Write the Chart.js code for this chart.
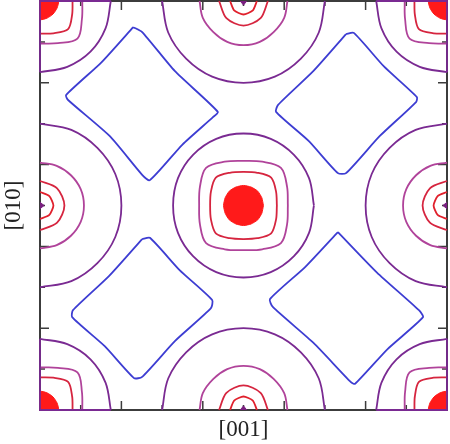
<!DOCTYPE html>
<html lang="en">
  <head>
    <meta charset="UTF-8" />
    <script src="https://cdn.jsdelivr.net/npm/chart.js@4.4.1/dist/chart.umd.min.js"></script>
    <title>Contour map</title>
    <style>
      body { margin: 0; background: #fff; }
      #wrap { width: 450px; height: 444px; }
    </style>
  </head>
  <body>
    <div id="wrap"><canvas id="chart"></canvas></div>
    <script>
      // contour lines, in % of the cell along [001] (x) and [010] (y)
      const fillBlobs = [
        [[54.9,50],[54.5,51.9],[53.5,53.5],[51.9,54.5],[50,54.9],[48.1,54.5],[46.5,53.5],[45.5,51.9],[45.1,50],[45.5,48.1],[46.5,46.5],[48.1,45.5],[50,45.1],[51.9,45.5],[53.5,46.5],[54.5,48.1],[54.9,50]],
        [[0,0],[4.5,0],[4.2,1.7],[3.2,3.2],[1.7,4.2],[0,4.5],[0,0]],
        [[100,0],[95.5,0],[95.8,1.7],[96.8,3.2],[98.3,4.2],[100,4.5],[100,0]],
        [[0,100],[4.5,100],[4.2,98.3],[3.2,96.8],[1.7,95.8],[0,95.5],[0,100]],
        [[100,100],[95.5,100],[95.8,98.3],[96.8,96.8],[98.3,95.8],[100,95.5],[100,100]]
      ];
      const redRings = [
        [[58.2,50],[58.0,53.4],[56.8,56.8],[53.4,58.0],[50,58.2],[46.6,58.0],[43.2,56.8],[42.0,53.4],[41.8,50],[42.0,46.6],[43.2,43.2],[46.6,42.0],[50,41.8],[53.4,42.0],[56.8,43.2],[58.0,46.6],[58.2,50]],
        [[8,0],[7.9,3.3],[6.9,6.9],[3.3,7.9],[0,8]],
        [[92,0],[92.1,3.3],[93.1,6.9],[96.7,7.9],[100,8]],
        [[8,100],[7.9,96.7],[6.9,93.1],[3.3,92.1],[0,92]],
        [[92,100],[92.1,96.7],[93.1,93.1],[96.7,92.1],[100,92]],
        [[0,56],[4.2,54.2],[6,50],[4.2,45.8],[0,44]],
        [[100,56],[95.8,54.2],[94,50],[95.8,45.8],[100,44]],
        [[44,0],[45.8,4.2],[50,6],[54.2,4.2],[56,0]],
        [[44,100],[45.8,95.8],[50,94],[54.2,95.8],[56,100]]
      ];
      const innerRings = [
        [[0,53.3],[2.3,52.3],[3.3,50],[2.3,47.7],[0,46.7]],
        [[100,53.3],[97.7,52.3],[96.7,50],[97.7,47.7],[100,46.7]],
        [[46.7,0],[47.7,2.3],[50,3.3],[52.3,2.3],[53.3,0]],
        [[46.7,100],[47.7,97.7],[50,96.7],[52.3,97.7],[53.3,100]]
      ];
      const siteMarks = [
        [[0,50.8],[1,50],[0,49.2]],
        [[100,50.8],[99,50],[100,49.2]],
        [[49.2,0],[50,1],[50.8,0]],
        [[49.2,100],[50,99],[50.8,100]]
      ];
      const pinkRings = [
        [[60.9,50],[60.7,54.6],[59.2,59.2],[54.6,60.7],[50,60.9],[45.4,60.7],[40.8,59.2],[39.3,54.6],[39.1,50],[39.3,45.4],[40.8,40.8],[45.4,39.3],[50,39.1],[54.6,39.3],[59.2,40.8],[60.7,45.4],[60.9,50]],
        [[10.4,0],[10.3,4.4],[9.2,9.2],[4.4,10.3],[0,10.4]],
        [[89.6,0],[89.7,4.4],[90.8,9.2],[95.6,10.3],[100,10.4]],
        [[10.4,100],[10.3,95.6],[9.2,90.8],[4.4,89.7],[0,89.6]],
        [[89.6,100],[89.7,95.6],[90.8,90.8],[95.6,89.7],[100,89.6]],
        [[0,60.5],[4.1,59.7],[7.6,57.4],[10,54],[10.8,50],[10,46],[7.6,42.6],[4.1,40.3],[0,39.5]],
        [[100,60.5],[95.9,59.7],[92.4,57.4],[90,54],[89.2,50],[90,46],[92.4,42.6],[95.9,40.3],[100,39.5]],
        [[39.2,0],[40,4.1],[42.6,7.6],[46,10],[50,10.8],[54,10],[57.4,7.6],[60,4.1],[60.8,0]],
        [[39.2,100],[40,95.9],[42.6,92.4],[46,90],[50,89.2],[54,90],[57.4,92.4],[60,95.9],[60.8,100]]
      ];
      const purpleRings = [
        [[67.3,50],[66.1,56.7],[62.4,62.4],[56.7,66.3],[50,67.6],[43.3,66.3],[37.6,62.4],[33.9,56.7],[32.7,50],[33.9,43.3],[37.6,37.6],[43.3,33.7],[50,32.4],[56.7,33.7],[62.4,37.6],[66.1,43.3],[67.3,50]],
        [[17.4,0],[16.1,6.7],[12.4,12.4],[6.7,16.1],[0,17.4]],
        [[82.6,0],[83.9,6.7],[87.6,12.4],[93.3,16.1],[100,17.4]],
        [[17.4,100],[16.1,93.3],[12.4,87.6],[6.7,83.9],[0,82.6]],
        [[82.6,100],[83.9,93.3],[87.6,87.6],[93.3,83.9],[100,82.6]],
        [[0,70],[7.7,68.5],[14.1,64.1],[18.5,57.7],[20,50],[18.5,42.3],[14.1,35.9],[7.7,31.5],[0,30]],
        [[100,70],[92.3,68.5],[85.9,64.1],[81.5,57.7],[80,50],[81.5,42.3],[85.9,35.9],[92.3,31.5],[100,30]],
        [[30,0],[31.5,7.7],[35.9,14.1],[42.3,18.5],[50,20],[57.7,18.5],[64.1,14.1],[68.5,7.7],[70,0]],
        [[30,100],[31.5,92.3],[35.9,85.9],[42.3,81.5],[50,80],[57.7,81.5],[64.1,85.9],[68.5,92.3],[70,100]]
      ];
      // the corner contours run along the frame as well
      const cornerEdges = [
        [[0,17.4],[0,0],[17.4,0]],
        [[82.6,0],[100,0],[100,17.4]],
        [[0,82.6],[0,100],[17.4,100]],
        [[82.6,100],[100,100],[100,82.6]]
      ];
      const blueLoops = [
        [[22.9,93.6],[25.1,92.4],[33.1,82.9],[43.7,72.9],[42.5,71.6],[35.0,64.9],[27.0,56.2],[25.1,57.5],[17.1,67.0],[6.9,75.8],[6.4,77.0],[15.1,85.0],[22.9,93.6]],
        [[75.2,91.9],[77.1,92.2],[84.5,84.0],[92.6,76.5],[92.4,75.3],[83.5,67.0],[75.2,57.9],[73.2,57.9],[66.0,65.8],[58.0,72.9],[58.5,74.6],[67.2,82.9],[75.2,91.9]],
        [[25.1,41.8],[27.0,42.1],[34.3,34.2],[42.3,26.9],[42.0,24.9],[33.2,16.9],[25.1,8.1],[23.1,7.8],[15.9,15.6],[7.9,22.7],[8.1,24.4],[17.0,32.8],[25.1,41.8]],
        [[73.2,43.5],[82.8,33.6],[93.1,24.4],[94.1,22.7],[85.4,14.9],[77.4,6.4],[76.4,6.8],[67.2,16.4],[57.2,25.2],[56.5,27.1],[65.2,35.0],[73.2,43.5]]
      ];
      const tickValues = [10, 20, 30, 40, 50, 60, 70, 80, 90];

      const datasets = [];
      function addLines(list, color, tension, extra) {
        list.forEach((pts) => {
          datasets.push(Object.assign({
            data: pts.map((p) => ({ x: p[0], y: p[1] })),
            showLine: true,
            borderColor: color,
            borderWidth: 1.8,
            pointRadius: 0,
            tension: tension,
            clip: false,
          }, extra || {}));
        });
      }
      addLines(cornerEdges, "#7a2a92", 0);
      addLines(blueLoops, "#3d3dd2", 0.2);
      addLines(purpleRings, "#7a2a92", 0.35);
      addLines(pinkRings, "#b0439a", 0.35);
      addLines(redRings, "#d6253f", 0.3);
      addLines(innerRings, "#e0202c", 0.2);
      addLines(siteMarks, "#7a2080", 0, { fill: "shape", backgroundColor: "#7a2080", borderWidth: 1 });
      addLines(fillBlobs, "#ff1a1a", 0.2, { fill: "shape", backgroundColor: "#ff1a1a", borderWidth: 1 });

      const framePlugin = {
        id: "frame",
        beforeDatasetsDraw(chart) {
          const { ctx, chartArea: a, scales: { x, y } } = chart;
          ctx.save();
          ctx.strokeStyle = "#3c3c3c";
          ctx.lineWidth = 2;
          ctx.strokeRect(a.left, a.top, a.right - a.left, a.bottom - a.top);
          ctx.lineWidth = 1.5;
          ctx.beginPath();
          tickValues.forEach((v) => {
            const len = v % 20 === 0 ? 9 : 5;
            const px = x.getPixelForValue(v);
            const py = y.getPixelForValue(v);
            ctx.moveTo(px, a.bottom); ctx.lineTo(px, a.bottom - len);
            ctx.moveTo(px, a.top); ctx.lineTo(px, a.top + len);
            ctx.moveTo(a.left, py); ctx.lineTo(a.left + len, py);
            ctx.moveTo(a.right, py); ctx.lineTo(a.right - len, py);
          });
          ctx.stroke();
          ctx.restore();
        },
      };

      const titleFont = { family: "'Liberation Serif', 'DejaVu Serif', serif", size: 23 };

      new Chart(document.getElementById("chart").getContext("2d"), {
        type: "scatter",
        data: { datasets: datasets },
        options: {
          responsive: true,
          maintainAspectRatio: false,
          animation: false,
          layout: { padding: { top: 1, right: 3, left: 0, bottom: 0 } },
          plugins: { legend: { display: false }, tooltip: { enabled: false } },
          scales: {
            x: {
              type: "linear", min: 0, max: 100,
              ticks: { display: false },
              grid: { display: false, drawTicks: false },
              border: { display: false },
              title: { display: true, text: "[001]", color: "#222", font: titleFont, padding: { top: 6.4, bottom: 0 } },
            },
            y: {
              type: "linear", min: 0, max: 100,
              ticks: { display: false },
              grid: { display: false, drawTicks: false },
              border: { display: false },
              title: { display: true, text: "[010]", color: "#222", font: titleFont, padding: { top: 0, bottom: 12.4 } },
            },
          },
        },
        plugins: [framePlugin],
      });
    </script>
  </body>
</html>
